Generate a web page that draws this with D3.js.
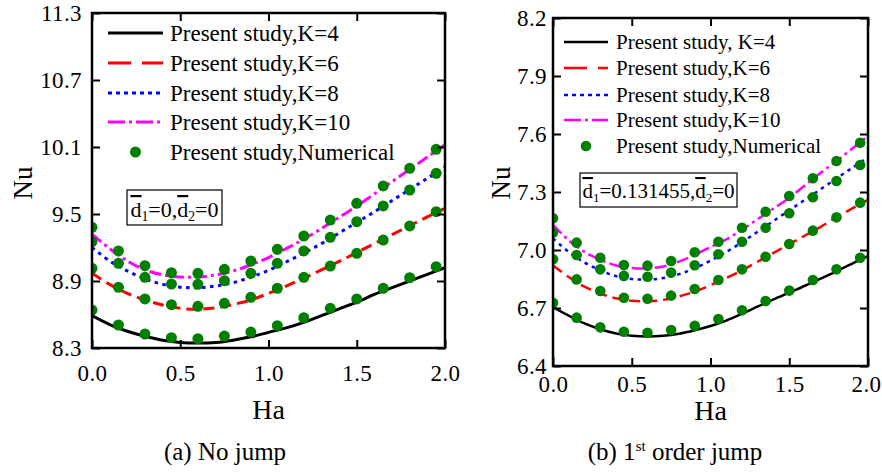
<!DOCTYPE html>
<html>
<head>
<meta charset="utf-8">
<script src="https://cdn.jsdelivr.net/npm/d3@7"></script>
</head>
<body style="margin:0">
<svg id="chart" width="882" height="473" style="display:block;background:#fff"></svg>
<script>
// Hartmann number grid for the analytical curves and for the numerical points
const haCurve = [0, 0.1, 0.2, 0.3, 0.4, 0.5, 0.6, 0.7, 0.8, 0.9, 1.0,
                 1.1, 1.2, 1.3, 1.4, 1.5, 1.6, 1.7, 1.8, 1.9, 2.0];
const haNum = [0, 0.15, 0.3, 0.45, 0.6, 0.75, 0.9, 1.05, 1.2, 1.35, 1.5, 1.65, 1.8, 1.95];

const seriesNames = ["Present study,K=4", "Present study,K=6", "Present study,K=8", "Present study,K=10"];
const seriesNamesB = ["Present study, K=4", "Present study,K=6", "Present study,K=8", "Present study,K=10"];
const numericalName = "Present study,Numerical";

// (a) No jump — analytical Nu
const nuA_K4  = [8.59, 8.51, 8.45, 8.405, 8.37, 8.35, 8.345, 8.35, 8.37, 8.40, 8.44,
                 8.48, 8.53, 8.59, 8.65, 8.71, 8.78, 8.84, 8.90, 8.96, 9.02];
const nuA_K6  = [8.97, 8.87, 8.79, 8.73, 8.685, 8.655, 8.648, 8.66, 8.69, 8.73, 8.79,
                 8.855, 8.925, 9.00, 9.075, 9.155, 9.235, 9.315, 9.395, 9.475, 9.55];
const nuA_K8  = [9.20, 9.08, 8.99, 8.92, 8.87, 8.845, 8.84, 8.855, 8.885, 8.935, 8.995,
                 9.07, 9.15, 9.235, 9.33, 9.425, 9.52, 9.62, 9.72, 9.82, 9.92];
const nuA_K10 = [9.32, 9.19, 9.08, 9.00, 8.955, 8.935, 8.935, 8.955, 8.99, 9.045, 9.11,
                 9.19, 9.275, 9.37, 9.47, 9.57, 9.68, 9.79, 9.90, 10.01, 10.12];
// (a) No jump — numerical Nu
const numA_K4  = [8.640, 8.506, 8.425, 8.392, 8.383, 8.407, 8.443, 8.500, 8.571, 8.655, 8.739, 8.835, 8.930, 9.028];
const numA_K6  = [9.014, 8.843, 8.739, 8.688, 8.673, 8.700, 8.754, 8.835, 8.933, 9.034, 9.148, 9.267, 9.393, 9.521];
const numA_K8  = [9.252, 9.058, 8.933, 8.873, 8.870, 8.903, 8.969, 9.058, 9.169, 9.291, 9.431, 9.572, 9.715, 9.864];
const numA_K10 = [9.381, 9.169, 9.037, 8.975, 8.969, 9.005, 9.079, 9.184, 9.303, 9.446, 9.596, 9.751, 9.909, 10.079];

// (b) 1st order jump — analytical Nu
const nuB_K4  = [6.705, 6.66, 6.62, 6.59, 6.568, 6.556, 6.552, 6.556, 6.567, 6.585, 6.607,
                 6.635, 6.67, 6.708, 6.745, 6.78, 6.815, 6.852, 6.89, 6.93, 6.968];
const nuB_K6  = [6.92, 6.86, 6.81, 6.775, 6.75, 6.737, 6.735, 6.742, 6.76, 6.785, 6.818,
                 6.855, 6.895, 6.94, 6.985, 7.03, 7.075, 7.12, 7.17, 7.215, 7.26];
const nuB_K8  = [7.06, 6.99, 6.935, 6.895, 6.865, 6.85, 6.847, 6.855, 6.875, 6.905, 6.945,
                 6.99, 7.04, 7.095, 7.15, 7.205, 7.26, 7.315, 7.37, 7.425, 7.48];
const nuB_K10 = [7.13, 7.05, 6.99, 6.95, 6.92, 6.907, 6.905, 6.915, 6.94, 6.975, 7.015,
                 7.055, 7.105, 7.16, 7.215, 7.27, 7.335, 7.40, 7.46, 7.525, 7.59];
// (b) 1st order jump — numerical Nu
const numB_K4  = [6.727, 6.650, 6.600, 6.577, 6.572, 6.586, 6.608, 6.643, 6.688, 6.736, 6.790, 6.845, 6.900, 6.960];
const numB_K6  = [6.952, 6.848, 6.788, 6.753, 6.748, 6.764, 6.798, 6.845, 6.900, 6.965, 7.031, 7.100, 7.169, 7.245];
const numB_K8  = [7.090, 6.974, 6.900, 6.866, 6.862, 6.883, 6.921, 6.978, 7.043, 7.115, 7.190, 7.273, 7.357, 7.440];
const numB_K10 = [7.164, 7.038, 6.960, 6.922, 6.919, 6.943, 6.988, 7.043, 7.115, 7.198, 7.279, 7.371, 7.460, 7.555];

const xTicks = [0, 0.5, 1.0, 1.5, 2.0];
const yTicksA = [8.3, 8.9, 9.5, 10.1, 10.7, 11.3];
const yTicksB = [6.4, 6.7, 7.0, 7.3, 7.6, 7.9, 8.2];

const fontNames = ["Liberation Serif"];
const SERIF = `"${fontNames[0]}"`;
const svg = d3.select("#chart");

const lineStyles = [
  { color: "#000000", dash: null,         legendDash: null },
  { color: "#ff0000", dash: "11,6",       legendDash: "23,11" },
  { color: "#0000ff", dash: "3.5,4.5",    legendDash: "4,4" },
  { color: "#ff00ff", dash: "12,4,3,4",   legendDash: "17,4,3,4" }
];
const dotColor = "#007f00";

// text helper with the serif face applied to the element itself
function label(parent, size) {
  return parent.append("text")
    .attr("font-size", size).attr("fill", "#000")
    .style("font-family", SERIF);
}

function drawPanel(o) {
  const g = svg.append("g");
  const x = d3.scaleLinear().domain([0, 2]).range([o.left, o.right]);
  const y = d3.scaleLinear().domain(o.yDomain).range([o.bottom, o.top]);

  const clipId = "clip-" + o.id;
  svg.append("defs").append("clipPath").attr("id", clipId)
    .append("rect").attr("x", o.left).attr("y", o.top)
    .attr("width", o.right - o.left).attr("height", o.bottom - o.top);

  const plot = g.append("g").attr("clip-path", `url(#${clipId})`);
  const line = d3.line().x(d => x(d[0])).y(d => y(d[1])).curve(d3.curveCatmullRom.alpha(0.5));

  o.curves.forEach((vals, i) => {
    const st = lineStyles[i];
    plot.append("path")
      .datum(haCurve.map((h, j) => [h, vals[j]]))
      .attr("fill", "none")
      .attr("stroke", st.color)
      .attr("stroke-width", o.lw)
      .attr("stroke-dasharray", st.dash)
      .attr("d", line);
  });

  o.points.forEach(vals => {
    plot.append("g").selectAll("circle")
      .data(haNum.map((h, j) => [h, vals[j]]))
      .join("circle")
      .attr("cx", d => x(d[0]))
      .attr("cy", d => y(d[1]))
      .attr("r", o.r)
      .attr("fill", dotColor);
  });

  // axes with inward ticks on all four sides
  const fmt = d3.format(".1f");
  const ax = (gen, tr) => {
    const a = g.append("g").attr("transform", tr).call(gen);
    a.select(".domain").remove();
    a.attr("font-family", null).attr("font-size", null);
    a.selectAll(".tick line").attr("stroke", "#000").attr("stroke-width", 2);
    return a;
  };
  const bottomAx = ax(d3.axisBottom(x).tickValues(xTicks).tickFormat(fmt).tickSize(-8).tickPadding(o.xPad),
                      `translate(0,${o.bottom})`);
  ax(d3.axisTop(x).tickValues(xTicks).tickFormat("").tickSize(-8), `translate(0,${o.top})`);
  const leftAx = ax(d3.axisLeft(y).tickValues(o.yTicks).tickFormat(fmt).tickSize(-8).tickPadding(o.yPad),
                    `translate(${o.left},0)`);
  ax(d3.axisRight(y).tickValues(o.yTicks).tickFormat("").tickSize(-8), `translate(${o.right},0)`);

  [bottomAx, leftAx].forEach(a => a.selectAll("text")
    .attr("font-size", 23).attr("letter-spacing", 0.4).attr("fill", "#000")
    .style("font-family", SERIF));
  // keep the last x label inside the page
  bottomAx.selectAll("text").filter(d => d === 2).attr("dx", o.lastDx);

  g.append("rect")
    .attr("x", o.left).attr("y", o.top)
    .attr("width", o.right - o.left).attr("height", o.bottom - o.top)
    .attr("fill", "none").attr("stroke", "#000").attr("stroke-width", 2.5);

  // axis titles
  label(g, 28).attr("x", (o.left + o.right) / 2).attr("y", o.xTitleY)
    .attr("text-anchor", "middle").text("Ha");
  label(g, 27)
    .attr("transform", `translate(${o.yTitleX},${o.yTitleY}) rotate(-90)`)
    .attr("text-anchor", "middle").text("Nu");

  // legend
  const lg = g.append("g");
  o.legendNames.forEach((name, i) => {
    const st = lineStyles[i];
    const ly = o.legY[i];
    lg.append("line")
      .attr("x1", o.legX0).attr("x2", o.legX1).attr("y1", ly).attr("y2", ly)
      .attr("stroke", st.color).attr("stroke-width", o.lw)
      .attr("stroke-dasharray", st.legendDash);
    label(lg, o.legFont).attr("x", o.legTextX).attr("y", ly + o.legFont * 0.33).text(name);
  });
  const ly5 = o.legY[4];
  lg.append("circle").attr("cx", (o.legX0 + o.legX1) / 2).attr("cy", ly5)
    .attr("r", o.r).attr("fill", dotColor);
  label(lg, o.legFont).attr("x", o.legTextX).attr("y", ly5 + o.legFont * 0.33).text(numericalName);

  // boxed parameter note
  g.append("rect").attr("x", o.box[0]).attr("y", o.box[1])
    .attr("width", o.box[2]).attr("height", o.box[3])
    .attr("fill", "#fff").attr("stroke", "#000").attr("stroke-width", 1.2);
  const nt = label(g, o.noteFont).attr("x", o.box[0] + o.box[2] / 2).attr("y", o.noteY)
    .attr("text-anchor", "middle");
  nt.append("tspan").attr("text-decoration", "overline").text("d");
  nt.append("tspan").attr("font-size", o.noteFont * 0.62).attr("dy", 4).text("1");
  nt.append("tspan").attr("dy", -4).text("=" + o.d1 + ",");
  nt.append("tspan").attr("text-decoration", "overline").text("d");
  nt.append("tspan").attr("font-size", o.noteFont * 0.62).attr("dy", 4).text("2");
  nt.append("tspan").attr("dy", -4).text("=0");

  // caption
  const cap = label(g, 25).attr("x", o.capX).attr("y", 460).attr("text-anchor", "middle");
  o.caption(cap);
}

drawPanel({
  id: "a", left: 92, right: 445, top: 13, bottom: 348,
  yDomain: [8.3, 11.3], yTicks: yTicksA, xPad: 17, yPad: 10, lastDx: 0,
  curves: [nuA_K4, nuA_K6, nuA_K8, nuA_K10],
  points: [numA_K4, numA_K6, numA_K8, numA_K10],
  lw: 3, r: 5.5,
  xTitleY: 419, yTitleX: 32, yTitleY: 183,
  legendNames: seriesNames, legY: [33, 63, 93, 122, 152],
  legX0: 108, legX1: 163, legTextX: 170, legFont: 23,
  box: [127, 190, 95, 35], noteY: 217, noteFont: 22, d1: "0",
  capX: 225,
  caption: t => t.text("(a) No jump")
});

drawPanel({
  id: "b", left: 553, right: 868, top: 18, bottom: 366,
  yDomain: [6.4, 8.2], yTicks: yTicksB, xPad: 10, yPad: 6, lastDx: -2,
  curves: [nuB_K4, nuB_K6, nuB_K8, nuB_K10],
  points: [numB_K4, numB_K6, numB_K8, numB_K10],
  lw: 2.5, r: 5.3,
  xTitleY: 420, yTitleX: 510, yTitleY: 183,
  legendNames: seriesNamesB, legY: [42, 68, 95, 120, 146],
  legX0: 564, legX1: 608, legTextX: 616, legFont: 21,
  box: [580, 173, 157, 34], noteY: 198, noteFont: 21, d1: "0.131455",
  capX: 675,
  caption: t => {
    t.append("tspan").text("(b) 1");
    t.append("tspan").attr("font-size", 15).attr("dy", -9).text("st");
    t.append("tspan").attr("dy", 9).text(" order jump");
  }
});
</script>
</body>
</html>
